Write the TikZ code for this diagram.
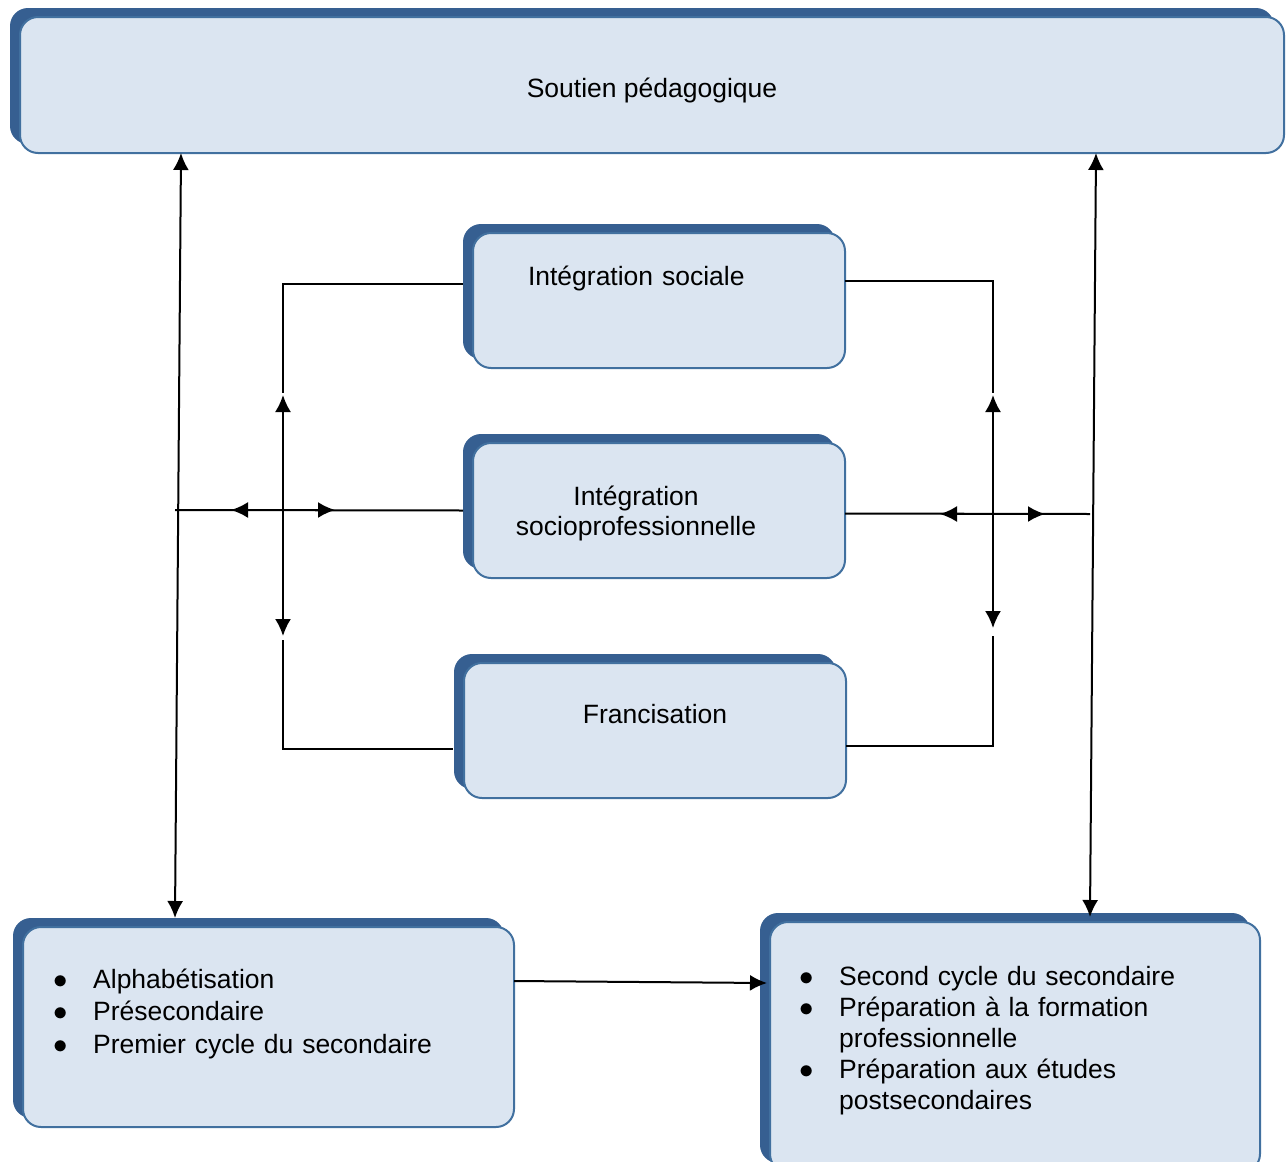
\documentclass[tikz,border=0pt]{standalone}
\usepackage{fontspec}
\setmainfont{Liberation Sans}
\usetikzlibrary{arrows.meta,calc,positioning,shadows}
\definecolor{panelfill}{HTML}{DBE5F1}
\definecolor{panelshade}{HTML}{365F91}
\definecolor{panelline}{HTML}{41709F}
\tikzset{%
	panel/.style = {draw=panelline, fill=panelfill, line width=1pt, rounded corners=9pt, inner sep=0pt, outer sep=0pt, anchor=north west,
		general shadow={fill=panelshade, shadow xshift=-5pt, shadow yshift=4.5pt}, font=\fontsize{13.25}{16}\selectfont}, % box with dark copy behind
	link/.style  = {line width=1pt},
}

\begin{document}
\begin{tikzpicture}[x=0.5pt,y=-0.5pt,>={Latex[length=8.5pt,width=8pt]}]
	\useasboundingbox (0,0) rectangle (1286,1162);
	\clip (0,0) rectangle (1286,1162);

	\node [panel,minimum width=632pt,minimum height=68pt,text height=40pt,text depth=28pt] (support) at (20,17) {Soutien pédagogique};
	\node [panel,minimum width=186pt,minimum height=67.5pt,text width=131pt,align=left,text height=26pt,text depth=41.5pt] (social) at (473,233) {Intégration sociale};
	\node [panel,minimum width=186pt,minimum height=67.5pt,text height=31pt,text depth=36.5pt,font=\fontsize{13.25}{15}\selectfont] (job) [below=37.5pt of social] {\begin{tabular}[t]{@{}c@{\hspace{23pt}}}Intégration\\socioprofessionnelle\end{tabular}};
	\node [panel,minimum width=191pt,minimum height=67.5pt,text height=30pt,text depth=37.5pt] (french) [below=42.5pt of job,xshift=-2pt] {Francisation};
	\node [panel,minimum width=245.5pt,minimum height=100pt,text width=215.1pt,align=left,text height=30.5pt,text depth=69.5pt,font=\fontsize{13.25}{16.25}\selectfont] (basic) at (23,927) {\begin{tabular}[t]{@{}l@{\hspace{12.7pt}}l@{}}
		$\bullet$ & Alphabétisation\\
		$\bullet$ & Présecondaire\\
		$\bullet$ & Premier cycle du secondaire
	\end{tabular}};
	\node [panel,minimum width=245pt,minimum height=125pt,text width=215.6pt,align=left,text height=31.5pt,text depth=93.5pt,font=\fontsize{13.25}{15.6}\selectfont] (advanced) at (770,922) {\begin{tabular}[t]{@{}l@{\hspace{12.7pt}}l@{}}
		$\bullet$ & Second cycle du secondaire\\
		$\bullet$ & Préparation à la formation\\
		 & professionnelle\\
		$\bullet$ & Préparation aux études\\
		 & postsecondaires
	\end{tabular}};

	\coordinate (lhub) at (283,510);
	\coordinate (rhub) at (993,514);

	% links to Soutien
	\draw[link,<->] ($(basic.north west)+(152,-9)$) -- ($(support.south west)+(161,0)$);
	\draw[link,<->] ($(advanced.north west)+(320,-5)$) -- ($(support.south west)+(1076,0)$);

	% left loop
	\draw[link] ($(social.north west)+(-10,51)$) -| ($(lhub)+(0,-117)$);
	\draw[link,<->] ($(lhub)+(0,-115)$) -- ($(lhub)+(0,126)$);
	\draw[link] ($(lhub)+(0,130)$) |- ($(french.north west)+(-11,86)$);
	\draw[link] ($(job.west)+(-10,0)$) -- ($(lhub)+(-108,0)$);
	\draw[link,<->] ($(lhub)+(-52,0)$) -- ($(lhub)+(52,0)$);

	% right loop
	\draw[link] ($(social.north east)+(0,48)$) -| ($(rhub)+(0,-121)$);
	\draw[link,<->] ($(rhub)+(0,-119)$) -- ($(rhub)+(0,114)$);
	\draw[link] ($(rhub)+(0,122)$) |- ($(french.north east)+(0,83)$);
	\draw[link] ($(job.east)+(0,3)$) -- ($(rhub)+(97,0)$);
	\draw[link,<->] ($(rhub)+(-53,0)$) -- ($(rhub)+(52,0)$);

	\draw[link,->] ($(basic.north east)+(0,54)$) -- ($(advanced.north west)+(-3,61)$);
\end{tikzpicture}
\end{document}
